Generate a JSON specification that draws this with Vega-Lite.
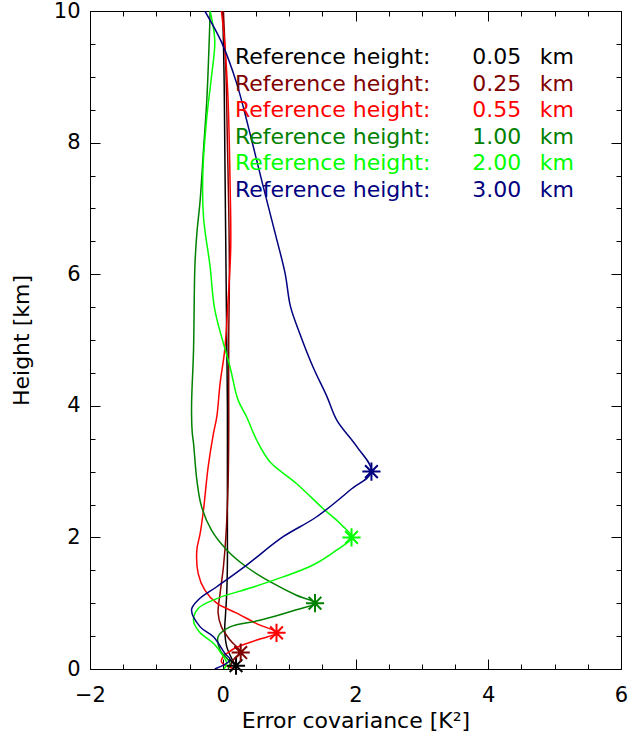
{
  "$schema": "https://vega.github.io/schema/vega-lite/v6.json",
  "width": 531,
  "height": 658,
  "autosize": "none",
  "padding": {"left": 90, "top": 11, "right": 15, "bottom": 72},
  "background": "white",
  "config": {
    "view": {"stroke": "black", "strokeWidth": 1},
    "font": "DejaVu Sans",
    "axis": {
      "domain": false,
      "grid": false,
      "tickColor": "black",
      "tickWidth": 1,
      "labelColor": "black",
      "titleColor": "black",
      "labelFont": "DejaVu Sans",
      "titleFont": "DejaVu Sans",
      "labelFontSize": 21,
      "titleFontSize": 22,
      "titleFontWeight": "normal",
      "labelFlush": false,
      "labelOverlap": false
    }
  },
  "datasets": {
    "lines": [
      {"s": "0.05", "c": 0.00, "h": 10},
      {"s": "0.05", "c": 0.02, "h": 9},
      {"s": "0.05", "c": 0.03, "h": 8},
      {"s": "0.05", "c": 0.04, "h": 7},
      {"s": "0.05", "c": 0.05, "h": 6},
      {"s": "0.05", "c": 0.06, "h": 5},
      {"s": "0.05", "c": 0.07, "h": 4},
      {"s": "0.05", "c": 0.07, "h": 3},
      {"s": "0.05", "c": 0.07, "h": 2},
      {"s": "0.05", "c": 0.07, "h": 1.6},
      {"s": "0.05", "c": 0.06, "h": 1.15},
      {"s": "0.05", "c": 0.04, "h": 0.8},
      {"s": "0.05", "c": 0.03, "h": 0.6},
      {"s": "0.05", "c": 0.06, "h": 0.34},
      {"s": "0.05", "c": 0.14, "h": 0.15},
      {"s": "0.05", "c": 0.20, "h": 0.05},

      {"s": "0.25", "c": 0.01, "h": 10},
      {"s": "0.25", "c": 0.05, "h": 9},
      {"s": "0.25", "c": 0.07, "h": 8},
      {"s": "0.25", "c": 0.09, "h": 7},
      {"s": "0.25", "c": 0.10, "h": 6},
      {"s": "0.25", "c": 0.09, "h": 5},
      {"s": "0.25", "c": 0.09, "h": 4},
      {"s": "0.25", "c": 0.09, "h": 3.6},
      {"s": "0.25", "c": 0.08, "h": 2.8},
      {"s": "0.25", "c": 0.05, "h": 2.06},
      {"s": "0.25", "c": 0.01, "h": 1.55},
      {"s": "0.25", "c": -0.04, "h": 1.15},
      {"s": "0.25", "c": -0.07, "h": 0.85},
      {"s": "0.25", "c": -0.02, "h": 0.64},
      {"s": "0.25", "c": 0.11, "h": 0.44},
      {"s": "0.25", "c": 0.27, "h": 0.25},
      {"s": "0.25", "c": 0.16, "h": 0.14},
      {"s": "0.25", "c": 0.11, "h": 0.03},

      {"s": "0.55", "c": -0.02, "h": 10},
      {"s": "0.55", "c": 0.03, "h": 9.5},
      {"s": "0.55", "c": 0.08, "h": 8.65},
      {"s": "0.55", "c": 0.11, "h": 7.4},
      {"s": "0.55", "c": 0.12, "h": 6.4},
      {"s": "0.55", "c": 0.08, "h": 5.6},
      {"s": "0.55", "c": 0.03, "h": 4.85},
      {"s": "0.55", "c": -0.04, "h": 4.34},
      {"s": "0.55", "c": -0.09, "h": 3.83},
      {"s": "0.55", "c": -0.14, "h": 3.58},
      {"s": "0.55", "c": -0.22, "h": 3.07},
      {"s": "0.55", "c": -0.29, "h": 2.42},
      {"s": "0.55", "c": -0.34, "h": 2.06},
      {"s": "0.55", "c": -0.39, "h": 1.81},
      {"s": "0.55", "c": -0.37, "h": 1.45},
      {"s": "0.55", "c": -0.27, "h": 1.2},
      {"s": "0.55", "c": -0.09, "h": 1.0},
      {"s": "0.55", "c": 0.21, "h": 0.85},
      {"s": "0.55", "c": 0.51, "h": 0.69},
      {"s": "0.55", "c": 0.81, "h": 0.55},
      {"s": "0.55", "c": 0.51, "h": 0.44},
      {"s": "0.55", "c": 0.21, "h": 0.33},
      {"s": "0.55", "c": 0.08, "h": 0.25},
      {"s": "0.55", "c": 0.0, "h": 0.18},
      {"s": "0.55", "c": -0.02, "h": 0.11},
      {"s": "0.55", "c": 0.03, "h": 0.06},
      {"s": "0.55", "c": 0.16, "h": 0.01},

      {"s": "1.00", "c": -0.19, "h": 10},
      {"s": "1.00", "c": -0.20, "h": 9.66},
      {"s": "1.00", "c": -0.24, "h": 8.65},
      {"s": "1.00", "c": -0.29, "h": 7.89},
      {"s": "1.00", "c": -0.34, "h": 7.13},
      {"s": "1.00", "c": -0.39, "h": 6.62},
      {"s": "1.00", "c": -0.42, "h": 6.11},
      {"s": "1.00", "c": -0.44, "h": 4.85},
      {"s": "1.00", "c": -0.47, "h": 3.99},
      {"s": "1.00", "c": -0.46, "h": 3.6},
      {"s": "1.00", "c": -0.44, "h": 3.43},
      {"s": "1.00", "c": -0.39, "h": 2.87},
      {"s": "1.00", "c": -0.32, "h": 2.47},
      {"s": "1.00", "c": -0.17, "h": 2.11},
      {"s": "1.00", "c": 0.06, "h": 1.81},
      {"s": "1.00", "c": 0.36, "h": 1.55},
      {"s": "1.00", "c": 0.76, "h": 1.30},
      {"s": "1.00", "c": 1.11, "h": 1.12},
      {"s": "1.00", "c": 1.39, "h": 1.0},
      {"s": "1.00", "c": 1.11, "h": 0.90},
      {"s": "1.00", "c": 0.56, "h": 0.74},
      {"s": "1.00", "c": 0.11, "h": 0.64},
      {"s": "1.00", "c": -0.07, "h": 0.49},
      {"s": "1.00", "c": -0.04, "h": 0.29},
      {"s": "1.00", "c": 0.11, "h": 0.09},
      {"s": "1.00", "c": 0.08, "h": 0.0},

      {"s": "2.00", "c": -0.19, "h": 10},
      {"s": "2.00", "c": -0.12, "h": 9.55},
      {"s": "2.00", "c": -0.17, "h": 9.0},
      {"s": "2.00", "c": -0.24, "h": 8.39},
      {"s": "2.00", "c": -0.30, "h": 7.53},
      {"s": "2.00", "c": -0.29, "h": 6.87},
      {"s": "2.00", "c": -0.19, "h": 6.11},
      {"s": "2.00", "c": -0.12, "h": 5.46},
      {"s": "2.00", "c": 0.11, "h": 4.59},
      {"s": "2.00", "c": 0.23, "h": 4.09},
      {"s": "2.00", "c": 0.36, "h": 3.83},
      {"s": "2.00", "c": 0.51, "h": 3.48},
      {"s": "2.00", "c": 0.71, "h": 3.15},
      {"s": "2.00", "c": 1.11, "h": 2.82},
      {"s": "2.00", "c": 1.51, "h": 2.44},
      {"s": "2.00", "c": 1.79, "h": 2.19},
      {"s": "2.00", "c": 1.94, "h": 2.0},
      {"s": "2.00", "c": 1.72, "h": 1.81},
      {"s": "2.00", "c": 1.36, "h": 1.58},
      {"s": "2.00", "c": 0.91, "h": 1.40},
      {"s": "2.00", "c": 0.41, "h": 1.23},
      {"s": "2.00", "c": -0.09, "h": 1.07},
      {"s": "2.00", "c": -0.37, "h": 0.92},
      {"s": "2.00", "c": -0.44, "h": 0.73},
      {"s": "2.00", "c": -0.34, "h": 0.55},
      {"s": "2.00", "c": -0.14, "h": 0.39},
      {"s": "2.00", "c": 0.01, "h": 0.19},
      {"s": "2.00", "c": 0.06, "h": 0.09},
      {"s": "2.00", "c": 0.02, "h": 0.0},

      {"s": "3.00", "c": -0.27, "h": 10},
      {"s": "3.00", "c": -0.02, "h": 9.53},
      {"s": "3.00", "c": 0.21, "h": 8.9},
      {"s": "3.00", "c": 0.41, "h": 8.14},
      {"s": "3.00", "c": 0.61, "h": 7.33},
      {"s": "3.00", "c": 0.79, "h": 6.62},
      {"s": "3.00", "c": 0.94, "h": 6.01},
      {"s": "3.00", "c": 1.02, "h": 5.51},
      {"s": "3.00", "c": 1.16, "h": 5.10},
      {"s": "3.00", "c": 1.36, "h": 4.59},
      {"s": "3.00", "c": 1.57, "h": 4.14},
      {"s": "3.00", "c": 1.72, "h": 3.78},
      {"s": "3.00", "c": 2.02, "h": 3.38},
      {"s": "3.00", "c": 2.24, "h": 3.0},
      {"s": "3.00", "c": 1.92, "h": 2.72},
      {"s": "3.00", "c": 1.41, "h": 2.31},
      {"s": "3.00", "c": 0.91, "h": 2.01},
      {"s": "3.00", "c": 0.36, "h": 1.58},
      {"s": "3.00", "c": -0.09, "h": 1.25},
      {"s": "3.00", "c": -0.37, "h": 1.05},
      {"s": "3.00", "c": -0.47, "h": 0.90},
      {"s": "3.00", "c": -0.34, "h": 0.64},
      {"s": "3.00", "c": -0.14, "h": 0.49},
      {"s": "3.00", "c": 0.03, "h": 0.24},
      {"s": "3.00", "c": 0.11, "h": 0.14},
      {"s": "3.00", "c": -0.12, "h": 0.0}
    ],
    "stars": [
      {"s": "0.05", "c": 0.20, "h": 0.05},
      {"s": "0.25", "c": 0.27, "h": 0.25},
      {"s": "0.55", "c": 0.81, "h": 0.55},
      {"s": "1.00", "c": 1.39, "h": 1.0},
      {"s": "2.00", "c": 1.94, "h": 2.0},
      {"s": "3.00", "c": 2.24, "h": 3.0}
    ]
  },
  "resolve": {"axis": {"x": "independent", "y": "independent"}},
  "layer": [
    {
      "data": {"name": "lines"},
      "mark": {"type": "line", "strokeWidth": 1.5, "interpolate": "catmull-rom", "clip": true},
      "encoding": {
        "x": {
          "field": "c", "type": "quantitative",
          "scale": {"domain": [-2, 6], "nice": false, "zero": false},
          "axis": {"orient": "bottom", "values": [-2, 0, 2, 4, 6], "tickSize": -10, "labelPadding": 25, "title": "Error covariance [K²]", "titlePadding": 5}
        },
        "y": {
          "field": "h", "type": "quantitative",
          "scale": {"domain": [0, 10], "nice": false, "zero": false},
          "axis": {"orient": "left", "values": [0, 2, 4, 6, 8, 10], "tickSize": -10, "labelPadding": 20, "title": "Height [km]", "titlePadding": 20}
        },
        "color": {
          "field": "s", "type": "nominal",
          "scale": {"domain": ["0.05", "0.25", "0.55", "1.00", "2.00", "3.00"], "range": ["#000000", "#800000", "#ff0000", "#008000", "#00ff00", "#000080"]},
          "legend": {
            "orient": "none", "legendX": 123, "legendY": 35, "direction": "vertical",
            "title": null, "padding": 0,
            "symbolSize": 0, "symbolOpacity": 0, "symbolStrokeWidth": 0, "labelOffset": 0,
            "labelFont": "DejaVu Sans", "labelFontSize": 22, "labelLimit": 500, "rowPadding": 4.5,
            "labelExpr": "'Reference height:\u00a0\u00a0\u00a0\u00a0\u00a0\u00a0' + datum.label + '\u00a0\u00a0\u2009km'",
            "encode": {"labels": {"update": {"fill": {"scale": "color", "field": "value"}}}}
          }
        },
        "order": {"field": "h", "type": "quantitative"}
      }
    },
    {
      "data": {"name": "stars"},
      "mark": {"type": "point", "shape": "M0,-1L0,1M-1,0L1,0M-0.7,-0.7L0.7,0.7M-0.7,0.7L0.7,-0.7", "size": 330, "strokeWidth": 2, "filled": false, "opacity": 1},
      "encoding": {
        "x": {"field": "c", "type": "quantitative", "axis": {"orient": "bottom", "values": [-2, -1.5, -1, -0.5, 0, 0.5, 1, 1.5, 2, 2.5, 3, 3.5, 4, 4.5, 5, 5.5, 6], "tickSize": -5, "labels": false, "title": null}},
        "y": {"field": "h", "type": "quantitative", "axis": {"orient": "left", "values": [0, 0.5, 1, 1.5, 2, 2.5, 3, 3.5, 4, 4.5, 5, 5.5, 6, 6.5, 7, 7.5, 8, 8.5, 9, 9.5, 10], "tickSize": -5, "labels": false, "title": null}},
        "color": {"field": "s", "type": "nominal"}
      }
    },
    {
      "data": {"name": "stars"},
      "mark": {"type": "point", "opacity": 0},
      "encoding": {
        "x": {"field": "c", "type": "quantitative", "axis": {"orient": "top", "values": [-2, 0, 2, 4, 6], "tickSize": -10, "labels": false, "title": null}},
        "y": {"field": "h", "type": "quantitative", "axis": {"orient": "right", "values": [0, 2, 4, 6, 8, 10], "tickSize": -10, "labels": false, "title": null}}
      }
    },
    {
      "data": {"name": "stars"},
      "mark": {"type": "point", "opacity": 0},
      "encoding": {
        "x": {"field": "c", "type": "quantitative", "axis": {"orient": "top", "values": [-2, -1.5, -1, -0.5, 0, 0.5, 1, 1.5, 2, 2.5, 3, 3.5, 4, 4.5, 5, 5.5, 6], "tickSize": -5, "labels": false, "title": null}},
        "y": {"field": "h", "type": "quantitative", "axis": {"orient": "right", "values": [0, 0.5, 1, 1.5, 2, 2.5, 3, 3.5, 4, 4.5, 5, 5.5, 6, 6.5, 7, 7.5, 8, 8.5, 9, 9.5, 10], "tickSize": -5, "labels": false, "title": null}}
      }
    }
  ]
}
